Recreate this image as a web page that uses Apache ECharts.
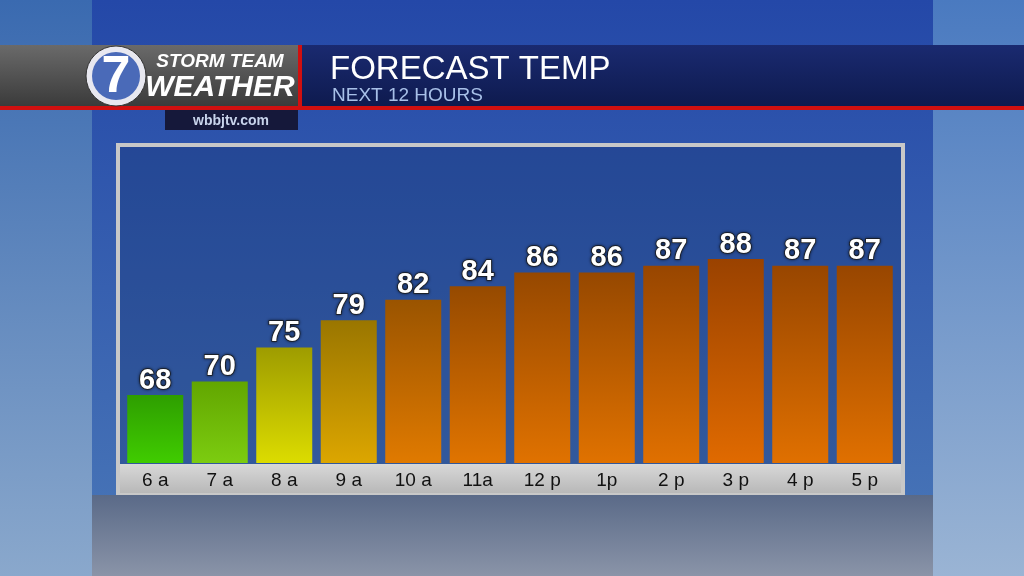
<!DOCTYPE html>
<html><head><meta charset="utf-8">
<script src="https://cdn.jsdelivr.net/npm/echarts@6/dist/echarts.min.js"></script>
<style>html,body{margin:0;padding:0;background:#1a3a8a}#c{width:1024px;height:576px}</style>
</head><body><div id="c"></div>
<script>
const categories = ['6 a','7 a','8 a','9 a','10 a','11a','12 p','1p','2 p','3 p','4 p','5 p'];
const temps = [68,70,75,79,82,84,86,86,87,88,87,87];
const topColors = ['#2e9e00','#62a600','#9e9c00','#9a7600','#9a5400','#964a00','#964800','#964800','#984600','#9a4200','#984600','#984600'];
const bottomColors = ['#40cc00','#7ccc10','#dcdc00','#dca600','#e07a00','#e07400','#e07200','#e07200','#e07000','#e06a00','#e07000','#e07000'];

const chart = echarts.init(document.getElementById('c'));
const lg = (a,b)=>({type:'linear',x:0,y:0,x2:0,y2:1,colorStops:[{offset:0,color:a},{offset:1,color:b}]});
chart.setOption({
  animation:false,
  backgroundColor: lg('#2448a8','#4a78b8'),
  graphic:[
    {type:'rect',shape:{x:0,y:0,width:92,height:576},style:{fill:lg('#3a6ab0','#8aa8cc')},z:-10},
    {type:'rect',shape:{x:933,y:0,width:91,height:576},style:{fill:lg('#4a7ac0','#9ab4d4')},z:-10},
    {type:'rect',shape:{x:92,y:495,width:841,height:81},style:{fill:lg('#5a6a88','#8a94a8')},z:-10},
    {type:'rect',shape:{x:0,y:45,width:1024,height:62},style:{fill:lg('#1a2a70','#0e1a4e')},z:1},
    {type:'rect',shape:{x:0,y:45,width:300,height:62},style:{fill:lg('#6a6a6a','#3a3a3a')},z:2},
    {type:'rect',shape:{x:0,y:106,width:1024,height:4},style:{fill:'#d01010'},z:3},
    {type:'rect',shape:{x:298,y:45,width:4,height:62},style:{fill:'#d01010'},z:3},
    {type:'rect',shape:{x:165,y:110,width:133,height:20},style:{fill:'#15183a'},z:3},
    {type:'text',style:{x:231,y:121,text:'wbbjtv.com',fill:'#c8d4ec',font:'bold 14px Arial',align:'center',verticalAlign:'middle'},z:4},
    {type:'circle',shape:{cx:116,cy:76,r:30},style:{fill:'#e8e8f0',stroke:'#333',lineWidth:1},z:4},
    {type:'circle',shape:{cx:116,cy:76,r:24},style:{fill:'#4a6ab8'},z:5},
    {type:'text',style:{x:116,y:78,text:'7',fill:'#fff',font:'bold 52px Arial',align:'center',verticalAlign:'middle'},z:6},
    {type:'text',style:{x:220,y:62,text:'STORM TEAM',fill:'#fff',font:'italic bold 19px Arial',align:'center',verticalAlign:'middle'},z:4},
    {type:'text',style:{x:220,y:88,text:'WEATHER',fill:'#fff',font:'italic bold 30px "Liberation Sans Narrow", Arial',align:'center',verticalAlign:'middle'},z:4},
    {type:'text',style:{x:330,y:70,text:'FORECAST TEMP',fill:'#fff',font:'33px Arial',verticalAlign:'middle'},z:4},
    {type:'text',style:{x:332,y:96,text:'NEXT 12 HOURS',fill:'#a8c0e8',font:'19px Arial',verticalAlign:'middle'},z:4},
    {type:'rect',shape:{x:118,y:145,width:785,height:348},style:{fill:'rgba(20,50,110,0.35)',stroke:'#c8c8c8',lineWidth:4},z:-5},
    {type:'rect',shape:{x:120,y:464,width:781,height:29},style:{fill:lg('#d8d8d8','#b8b8b8')},z:-4}
  ],
  grid:{left:123,right:127,top:177.4,bottom:113},
  xAxis:{type:'category',data:categories,axisLine:{show:false},axisTick:{show:false},
    axisLabel:{color:'#111',fontSize:19,fontFamily:'Arial',margin:8}},
  yAxis:{type:'value',min:58,max:100,show:false,splitLine:{show:false}},
  series:[{type:'bar',barWidth:56,
    data:temps.map((v,i)=>({value:v,itemStyle:{color:lg(topColors[i],bottomColors[i])}})),
    label:{show:true,position:'top',distance:0,color:'#fff',fontSize:29,fontWeight:'bold',fontFamily:'Arial',
      textBorderColor:'#222',textBorderWidth:1.5,textShadowColor:'rgba(0,0,0,0.6)',textShadowBlur:3}
  }]
});
</script></body></html>
